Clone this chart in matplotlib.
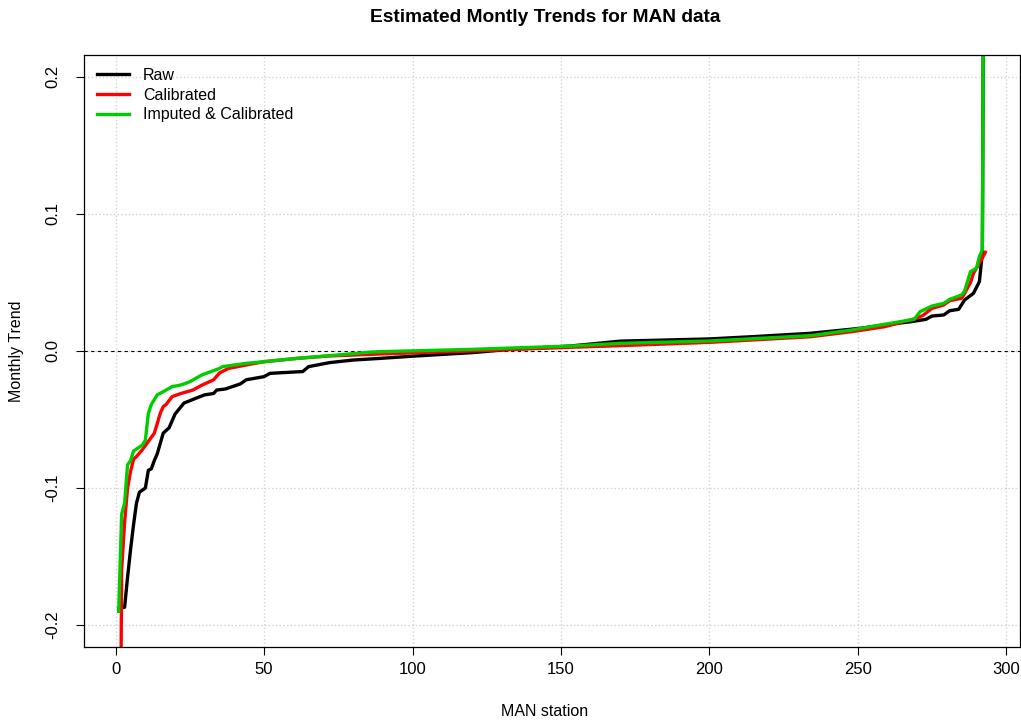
import matplotlib.pyplot as plt
import matplotlib.ticker as mticker

plt.rcParams['font.family'] = ['Liberation Sans', 'DejaVu Sans']

# station index / sorted monthly trend at the visible kinks
raw_x = [1, 3, 4, 5, 6, 7, 8, 10, 11, 12, 13, 14, 16, 18, 20, 23, 27, 30, 33, 34,
         37, 42, 44, 50, 52, 63, 65, 72, 80, 89, 100, 120, 133, 153, 170, 185, 200,
         215, 234, 251, 259, 268, 273, 275, 279, 281, 284, 286, 289, 291, 292, 293]
raw_y = [-0.188, -0.187, -0.165, -0.145, -0.127, -0.111, -0.103, -0.100, -0.087, -0.086,
         -0.080, -0.075, -0.060, -0.056, -0.046, -0.038, -0.0345, -0.032, -0.031, -0.0285,
         -0.0277, -0.024, -0.021, -0.0187, -0.0163, -0.015, -0.0114, -0.0085, -0.0066, -0.0054,
         -0.0038, -0.0012, 0.0012, 0.0036, 0.0072, 0.0080, 0.0088, 0.0105, 0.0129, 0.0166,
         0.019, 0.0214, 0.0231, 0.0255, 0.0263, 0.0294, 0.0304, 0.0372, 0.0421, 0.0506,
         0.072, 0.6]

cal_x = [1, 2, 3, 4, 5, 6, 7, 9, 11, 13, 14, 15, 16, 17, 19, 22, 26, 29, 33, 35,
         38, 44, 50, 61, 72, 89, 105, 120, 153, 170, 200, 234, 248, 259, 270, 272,
         275, 279, 281, 285, 286, 288, 289, 291, 293]
cal_y = [-0.5, -0.16, -0.125, -0.100, -0.088, -0.079, -0.077, -0.072, -0.066, -0.060,
         -0.053, -0.0455, -0.0406, -0.039, -0.0333, -0.031, -0.0285, -0.025, -0.021, -0.016,
         -0.0127, -0.0102, -0.0078, -0.0054, -0.0036, -0.0022, -0.001, 0.0, 0.0027, 0.0039,
         0.0063, 0.0104, 0.0141, 0.0177, 0.024, 0.026, 0.0311, 0.0336, 0.0367, 0.0385,
         0.042, 0.050, 0.0567, 0.064, 0.072]

imp_x = [1, 2, 3, 4, 5, 6, 9, 10, 11, 12, 14, 16, 19, 22, 25, 29, 32, 35, 36, 44,
         50, 61, 72, 86, 89, 120, 153, 170, 200, 234, 248, 259, 269, 271, 275, 279,
         281, 285, 286, 288, 290, 291, 292, 293]
imp_y = [-0.19, -0.119, -0.111, -0.083, -0.080, -0.073, -0.0686, -0.065, -0.0455, -0.039,
         -0.032, -0.0297, -0.026, -0.0248, -0.0224, -0.0175, -0.0151, -0.0127, -0.0114, -0.009,
         -0.0078, -0.0054, -0.0034, -0.0008, -0.0005, 0.0012, 0.0036, 0.0056, 0.0073, 0.0112,
         0.0153, 0.0195, 0.0231, 0.0287, 0.0328, 0.0348, 0.0377, 0.0409, 0.0438, 0.0579,
         0.0604, 0.0689, 0.0737, 0.6]

x_ticks = [0, 50, 100, 150, 200, 250, 300]
y_ticks = [-0.2, -0.1, 0.0, 0.1, 0.2]

fig = plt.figure(figsize=(10.21, 7.26), dpi=100)
ax = fig.add_axes([84 / 1021, 1 - 647 / 726, 936 / 1021, 592 / 726])

ax.grid(True, color='#D3D3D3', linestyle=':', linewidth=1)
ax.set_axisbelow(True)
ax.axhline(0, color='black', linestyle=(0, (3, 3)), linewidth=0.8)

ax.plot(raw_x, raw_y, color='black', linewidth=2.4, label='Raw')
ax.plot(cal_x, cal_y, color='#FF0000', linewidth=2.4, label='Calibrated')
ax.plot(imp_x, imp_y, color='#00CD00', linewidth=2.4, label='Imputed & Calibrated')

ax.set_xlim(-10.68, 304.68)
ax.set_ylim(-0.216, 0.216)
ax.set_xticks(x_ticks)
ax.set_yticks(y_ticks)
ax.yaxis.set_major_formatter(mticker.FuncFormatter(lambda v, p: f'{v:.1f}'))
ax.tick_params(axis='both', direction='out', length=6, width=0.8, labelsize=12)
ax.tick_params(axis='x', pad=5)
ax.tick_params(axis='y', pad=11)
for lab in ax.get_yticklabels():
    lab.set_rotation(90)
    lab.set_va('center')
for s in ax.spines.values():
    s.set_linewidth(0.9)

ax.legend(loc='upper left', bbox_to_anchor=(0.0, 1.0), frameon=False, fontsize=11.5,
          handlelength=2.0, handletextpad=0.9, labelspacing=0.3, borderaxespad=0.4)

fig.text(545 / 1021, 1 - 17 / 726, 'Estimated Montly Trends for MAN data',
         ha='center', va='center', fontsize=13.8, fontweight='bold')
fig.text(545 / 1021, 1 - 712 / 726, 'MAN station', ha='center', va='center', fontsize=11.5)
fig.text(17 / 1021, 1 - 351 / 726, 'Monthly Trend', ha='center', va='center',
         rotation=90, fontsize=11.5)

fig.savefig('out.png', dpi=100)
